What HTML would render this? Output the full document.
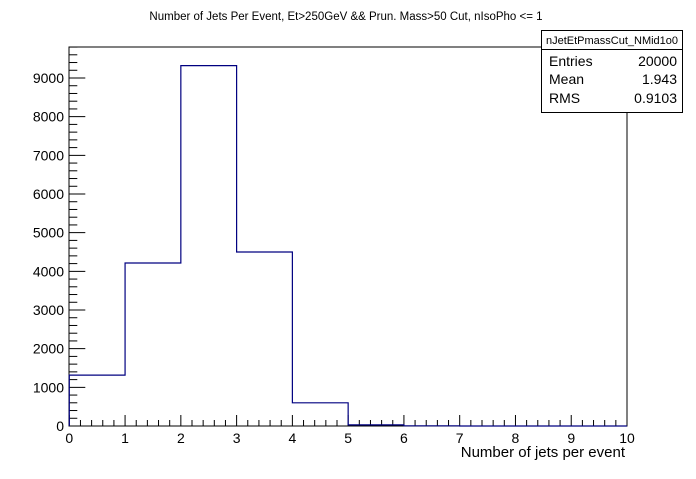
<!DOCTYPE html>
<html><head><meta charset="utf-8"><style>
body{margin:0;background:#fff;}
svg text{font-family:"Liberation Sans",Arial,sans-serif;fill:#000;}
</style></head><body>
<svg id="c" width="696" height="474" xmlns="http://www.w3.org/2000/svg">
<rect width="696" height="474" fill="#fff"/>
<text x="346" y="20" font-size="11.5" text-anchor="middle">Number of Jets Per Event, Et&gt;250GeV &amp;&amp; Prun. Mass&gt;50 Cut, nIsoPho &lt;= 1</text>
<rect x="69" y="47" width="558" height="379" fill="none" stroke="#000" stroke-width="1"/>
<g id="axes"></g>
<path id="hist" fill="none" stroke="#000080" stroke-width="1.2"/>
<text x="625" y="457" font-size="15" text-anchor="end">Number of jets per event</text>
<g>
<rect x="541.5" y="30.5" width="141" height="82" fill="#fff" stroke="#000"/>
<line x1="541.5" y1="49.5" x2="682.5" y2="49.5" stroke="#000"/>
<text x="612" y="44" font-size="11" text-anchor="middle">nJetEtPmassCut_NMid1o0</text>
<text x="549" y="66" font-size="14">Entries</text><text x="677" y="66" font-size="14" text-anchor="end">20000</text>
<text x="549" y="84" font-size="14">Mean</text><text x="677" y="84" font-size="14" text-anchor="end">1.943</text>
<text x="549" y="103" font-size="14">RMS</text><text x="677" y="103" font-size="14" text-anchor="end">0.9103</text>
</g>
</svg>
<script>
const binEdges=[0,1,2,3,4,5,6,7,8,9,10];
const counts=[1315,4215,9320,4500,600,30,5,0,0,0];
const xTicks=[0,1,2,3,4,5,6,7,8,9,10];
const yTicks=[0,1000,2000,3000,4000,5000,6000,7000,8000,9000];
const X0=69.3,X1=627,Y0=426,YS=348/9000;
const xs=v=>X0+(X1-X0)*v/10, ys=v=>Y0-v*YS;
const NS="http://www.w3.org/2000/svg";
const ax=document.getElementById('axes');
function ln(x1,y1,x2,y2){const l=document.createElementNS(NS,'line');l.setAttribute('x1',x1);l.setAttribute('y1',y1);l.setAttribute('x2',x2);l.setAttribute('y2',y2);l.setAttribute('stroke','#000');


ax.appendChild(l);}
function tx(x,y,s,a){const t=document.createElementNS(NS,'text');t.setAttribute('x',x);t.setAttribute('y',y);t.setAttribute('font-size','14');t.setAttribute('text-anchor',a);t.textContent=s;


ax.appendChild(t);}
for(let i=0;i<=50;i++){const x=xs(i/5);ln(x,Y0,x,Y0-(i%5==0?11:6));}
xTicks.forEach(v=>tx(xs(v),443,String(v),'middle'));
for(let v=0;v<=9800;v+=200){const y=ys(v);if(y<47)break;ln(X0,y,X0+(v%1000==0?16:8),y);}
yTicks.forEach(v=>tx(64,ys(v)+5,String(v),'end'));
let d='M'+xs(binEdges[0])+','+ys(0);
counts.forEach((c,i)=>{d+=' L'+xs(binEdges[i])+','+ys(c)+' L'+xs(binEdges[i+1])+','+ys(c);});
document.getElementById('hist').setAttribute('d',d);
</script>
</body></html>
